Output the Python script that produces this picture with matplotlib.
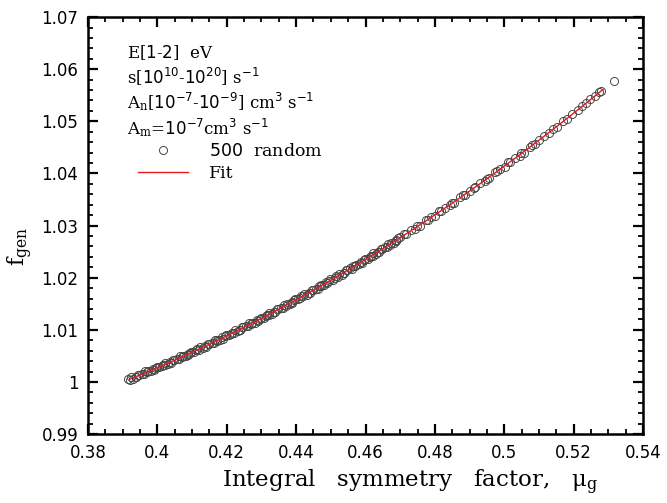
import numpy as np
import matplotlib
matplotlib.use('Agg')
import matplotlib.pyplot as plt
from matplotlib.ticker import MultipleLocator, FormatStrFormatter

plt.rcParams['mathtext.fontset'] = 'dejavuserif'

# integral symmetry factor (x) and generation factor (y)
mu_g = [
    0.3915, 0.3921, 0.3923, 0.3931, 0.3937, 0.3939, 0.3945, 0.3948, 0.3956, 0.3962,
    0.3965, 0.3971, 0.3973, 0.3981, 0.3987, 0.3989, 0.3995, 0.3998, 0.4006, 0.4012,
    0.4015, 0.4021, 0.4023, 0.4031, 0.4037, 0.4039, 0.4045, 0.4048, 0.4056, 0.4062,
    0.4065, 0.4071, 0.4073, 0.4081, 0.4087, 0.4089, 0.4095, 0.4098, 0.4106, 0.4112,
    0.4115, 0.4121, 0.4123, 0.4131, 0.4137, 0.4139, 0.4145, 0.4148, 0.4156, 0.4162,
    0.4165, 0.4171, 0.4173, 0.4181, 0.4187, 0.4189, 0.4195, 0.4198, 0.4206, 0.4212,
    0.4215, 0.4221, 0.4223, 0.4231, 0.4237, 0.4239, 0.4245, 0.4248, 0.4256, 0.4262,
    0.4265, 0.4271, 0.4273, 0.4281, 0.4287, 0.4289, 0.4295, 0.4298, 0.4306, 0.4312,
    0.4315, 0.4321, 0.4323, 0.4331, 0.4337, 0.4339, 0.4345, 0.4348, 0.4356, 0.4362,
    0.4365, 0.4371, 0.4373, 0.4381, 0.4387, 0.4389, 0.4395, 0.4398, 0.4406, 0.4412,
    0.4415, 0.4421, 0.4423, 0.4431, 0.4437, 0.4439, 0.4445, 0.4448, 0.4456, 0.4462,
    0.4465, 0.4471, 0.4473, 0.4481, 0.4487, 0.4489, 0.4495, 0.4498, 0.4506, 0.4512,
    0.4515, 0.4521, 0.4523, 0.4531, 0.4537, 0.4539, 0.4545, 0.4548, 0.4556, 0.4562,
    0.4565, 0.4571, 0.4573, 0.4581, 0.4587, 0.4589, 0.4595, 0.4598, 0.4606, 0.4612,
    0.4615, 0.4621, 0.4623, 0.4631, 0.4637, 0.4639, 0.4645, 0.4648, 0.4656, 0.4662,
    0.4665, 0.4671, 0.4673, 0.4681, 0.4687, 0.4689, 0.4695, 0.4698,
    0.4712, 0.4717, 0.4730, 0.4744, 0.4749, 0.4756, 0.4773, 0.4780, 0.4788, 0.4801,
    0.4812, 0.4817, 0.4830, 0.4844, 0.4849, 0.4856, 0.4873, 0.4880, 0.4888, 0.4901,
    0.4912, 0.4917, 0.4930, 0.4944, 0.4949, 0.4956, 0.4973, 0.4980, 0.4988, 0.5001,
    0.5012, 0.5017, 0.5030, 0.5044, 0.5049, 0.5056, 0.5073, 0.5080, 0.5088, 0.5101,
    0.5115, 0.5128, 0.5140, 0.5152, 0.5168, 0.5180, 0.5195, 0.5212, 0.5223, 0.5236,
    0.5248, 0.5262, 0.5274, 0.5280, 0.5316,
]
f_gen = [
    1.00052, 1.00044, 1.00088, 1.00066, 1.00098, 1.00088, 1.00137, 1.00132, 1.00158, 1.00146,
    1.00201, 1.00184, 1.00205, 1.00206, 1.00250, 1.00223, 1.00268, 1.00289, 1.00279, 1.00307,
    1.00330, 1.00323, 1.00368, 1.00347, 1.00380, 1.00371, 1.00421, 1.00417, 1.00444, 1.00432,
    1.00489, 1.00473, 1.00495, 1.00497, 1.00543, 1.00516, 1.00562, 1.00584, 1.00575, 1.00604,
    1.00628, 1.00622, 1.00668, 1.00649, 1.00682, 1.00674, 1.00725, 1.00722, 1.00750, 1.00740,
    1.00798, 1.00783, 1.00806, 1.00809, 1.00855, 1.00829, 1.00876, 1.00899, 1.00892, 1.00921,
    1.00946, 1.00942, 1.00989, 1.00970, 1.01005, 1.00997, 1.01050, 1.01048, 1.01077, 1.01067,
    1.01126, 1.01112, 1.01136, 1.01140, 1.01188, 1.01163, 1.01211, 1.01235, 1.01229, 1.01259,
    1.01285, 1.01282, 1.01329, 1.01312, 1.01347, 1.01341, 1.01395, 1.01394, 1.01424, 1.01415,
    1.01475, 1.01462, 1.01487, 1.01492, 1.01540, 1.01517, 1.01566, 1.01591, 1.01586, 1.01617,
    1.01644, 1.01642, 1.01690, 1.01674, 1.01711, 1.01705, 1.01760, 1.01760, 1.01791, 1.01783,
    1.01844, 1.01832, 1.01858, 1.01865, 1.01914, 1.01891, 1.01941, 1.01967, 1.01963, 1.01995,
    1.02024, 1.02022, 1.02072, 1.02056, 1.02094, 1.02090, 1.02145, 1.02146, 1.02178, 1.02172,
    1.02234, 1.02223, 1.02250, 1.02257, 1.02307, 1.02286, 1.02337, 1.02364, 1.02360, 1.02394,
    1.02423, 1.02423, 1.02473, 1.02459, 1.02498, 1.02494, 1.02551, 1.02553, 1.02586, 1.02581,
    1.02644, 1.02634, 1.02662, 1.02670, 1.02721, 1.02701, 1.02753, 1.02781,
    1.02831, 1.02831, 1.02917, 1.02942, 1.02983, 1.02989, 1.03100, 1.03112, 1.03160, 1.03191,
    1.03283, 1.03274, 1.03340, 1.03391, 1.03443, 1.03434, 1.03543, 1.03583, 1.03596, 1.03670,
    1.03730, 1.03733, 1.03824, 1.03855, 1.03897, 1.03907, 1.04024, 1.04039, 1.04090, 1.04128,
    1.04224, 1.04217, 1.04288, 1.04344, 1.04399, 1.04392, 1.04508, 1.04550, 1.04567, 1.04646,
    1.04723, 1.04771, 1.04858, 1.04899, 1.04998, 1.05039, 1.05136, 1.05211, 1.05290, 1.05343,
    1.05421, 1.05480, 1.05557, 1.05579, 1.05773,
]

# range over which the fitted curve is drawn
fit_range = (0.392, 0.5285)

info_lines = [
    r'E[$\mathsf{1\text{-}2}$]  eV',
    r's[$\mathsf{10^{10}\text{-}10^{20}}$] s$^{\mathsf{-1}}$',
    r'A$_\mathrm{n}$[$\mathsf{10^{-7}\text{-}10^{-9}}$] cm$^{\mathsf{3}}$ s$^{\mathsf{-1}}$',
    r'A$_\mathrm{m}$=$\mathsf{10^{-7}}$cm$^{\mathsf{3}}$ s$^{\mathsf{-1}}$',
]


def plot_data(x, y):
    fig = plt.figure(figsize=(6.67, 5.03), dpi=100)
    ax = fig.add_axes([0.132, 0.137, 0.832, 0.829])

    coef = np.polyfit(x, y, 2)
    x_fit = np.linspace(fit_range[0], fit_range[1], 200)

    ax.plot(x, y, 'o', ms=5.8, mfc='none', mec='#474747', mew=0.7,
            label=r'$\mathsf{500}$  random')
    ax.plot(x_fit, np.polyval(coef, x_fit), color='#e3191c', lw=1.0, label='Fit')

    ax.set_xlim(0.38, 0.54)
    ax.set_ylim(0.99, 1.07)
    ax.xaxis.set_major_locator(MultipleLocator(0.02))
    ax.xaxis.set_minor_locator(MultipleLocator(0.005))
    ax.yaxis.set_major_locator(MultipleLocator(0.01))
    ax.yaxis.set_minor_locator(MultipleLocator(0.002))
    ax.xaxis.set_major_formatter(FormatStrFormatter('%g'))
    ax.yaxis.set_major_formatter(FormatStrFormatter('%g'))
    ax.tick_params(which='both', direction='in', top=True, right=True,
                   labelsize=12, width=1.6, color='black')
    ax.tick_params(which='major', length=7, pad=7)
    ax.tick_params(which='minor', length=3.8, width=1.3)
    for s in ax.spines.values():
        s.set_linewidth(1.8)

    ax.set_xlabel(r'Integral   symmetry   factor,   μ$_\mathrm{g}$',
                  family='DejaVu Serif', fontsize=16.5)
    ax.xaxis.set_label_coords(0.58, -0.08)
    ax.set_ylabel(r'f$_\mathrm{gen}$', family='DejaVu Serif', fontsize=16)
    ax.yaxis.set_label_coords(-0.095, 0.45)

    for i, line in enumerate(info_lines):
        ax.text(0.070, 0.902 - i * 0.0607, line, transform=ax.transAxes,
                family='DejaVu Serif', fontsize=12, va='baseline')

    ax.legend(loc='upper left', bbox_to_anchor=(0.09, 0.698), frameon=False,
              prop={'family': 'DejaVu Serif', 'size': 12.5},
              handlelength=2.9, handletextpad=1.2, borderpad=0,
              borderaxespad=0, labelspacing=0.3)

    fig.savefig('out.png', dpi=100)


plot_data(mu_g, f_gen)
